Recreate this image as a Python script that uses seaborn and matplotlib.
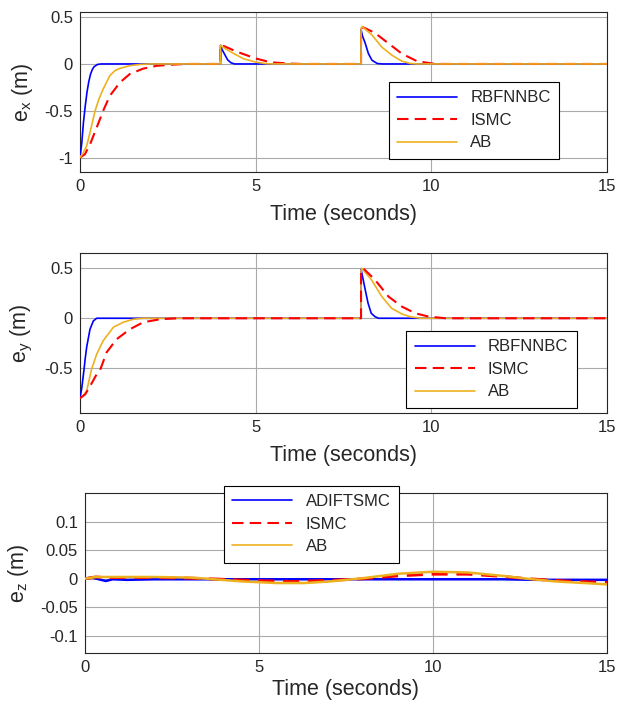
import matplotlib
matplotlib.use("Agg")
import matplotlib.pyplot as plt
import seaborn as sns

# ---------------- e_x panel ----------------
ex_rbf_t = [0, 0.05, 0.1, 0.15, 0.2, 0.25, 0.3, 0.35, 0.4, 0.5, 0.6,
            4.0, 4.0, 4.05, 4.1, 4.15, 4.2, 4.3, 4.4,
            8.0, 8.0, 8.04, 8.12, 8.21, 8.31, 8.46, 8.6, 15]
ex_rbf = [-1, -0.85, -0.62, -0.45, -0.3, -0.19, -0.11, -0.06, -0.03, -0.005, 0,
          0, 0.2, 0.15, 0.115, 0.08, 0.045, 0.012, 0,
          0, 0.37, 0.30, 0.22, 0.11, 0.04, 0.005, 0, 0]

ex_ismc_t = [0, 0.14, 0.285, 0.475, 0.66, 0.85, 1.14, 1.42, 1.8, 2.18, 2.6, 3.0,
             4.0, 4.0, 4.1, 4.47, 4.99, 5.42, 5.94, 6.3,
             8.0, 8.0, 8.07, 8.4, 8.78, 9.16, 9.59, 10.02, 10.3, 15]
ex_ismc = [-1, -0.965, -0.86, -0.68, -0.5, -0.34, -0.197, -0.107, -0.05, -0.02, -0.008, 0,
           0, 0.2, 0.19, 0.13, 0.06, 0.018, 0.005, 0,
           0, 0.37, 0.39, 0.33, 0.22, 0.11, 0.03, 0.005, 0, 0]

ex_ab_t = [0, 0.095, 0.19, 0.285, 0.43, 0.54, 0.66, 0.85, 1.0, 1.14, 1.42, 1.71, 2.0,
           4.0, 4.0, 4.15, 4.36, 4.65, 4.99, 5.3, 5.5,
           8.0, 8.0, 8.03, 8.31, 8.59, 8.88, 9.16, 9.41, 9.6, 15]
ex_ab = [-1, -0.947, -0.876, -0.733, -0.5, -0.375, -0.268, -0.125, -0.07, -0.047, -0.018, -0.005, 0,
         0, 0.2, 0.16, 0.115, 0.056, 0.021, 0.003, 0,
         0, 0.38, 0.40, 0.31, 0.18, 0.093, 0.03, 0.005, 0, 0]

# ---------------- e_y panel ----------------
ey_rbf_t = [0, 0.05, 0.11, 0.15, 0.19, 0.285, 0.38, 0.475,
            8.0, 8.0, 8.12, 8.2, 8.29, 8.4, 8.5, 15]
ey_rbf = [-0.8, -0.7, -0.527, -0.4, -0.29, -0.11, -0.027, 0,
          0, 0.49, 0.283, 0.15, 0.05, 0.015, 0, 0]

ey_ismc_t = [0, 0.15, 0.285, 0.475, 0.57, 0.76, 1.04, 1.42, 1.8, 2.28, 2.8,
             8.0, 8.0, 8.06, 8.4, 8.78, 9.16, 9.54, 9.92, 10.4, 15]
ey_ismc = [-0.8, -0.76, -0.68, -0.56, -0.52, -0.34, -0.21, -0.11, -0.04, -0.01, 0,
           0, 0.47, 0.5, 0.383, 0.217, 0.117, 0.05, 0.017, 0, 0]

ey_ab_t = [0, 0.1, 0.19, 0.33, 0.475, 0.66, 0.95, 1.23, 1.52, 1.8,
           8.0, 8.0, 8.02, 8.3, 8.59, 8.87, 9.16, 9.4, 9.7, 15]
ey_ab = [-0.8, -0.77, -0.727, -0.51, -0.36, -0.225, -0.09, -0.04, -0.01, 0,
         0, 0.48, 0.5, 0.383, 0.217, 0.1, 0.043, 0.015, 0, 0]

# ---------------- e_z panel ----------------
ez_adi_t = [0, 0.2, 0.4, 0.6, 0.8, 1.2, 2, 3, 4, 6, 8, 10, 12, 13, 15]
ez_adi = [0, 0.002, -0.001, -0.004, -0.001, -0.002, -0.001, -0.001, -0.001,
          -0.001, -0.001, -0.001, -0.001, -0.002, -0.002]

ez_ismc_t = [0, 0.3, 0.7, 1, 2, 3, 3.5, 5, 6, 7, 8, 9, 10, 11, 12, 12.7, 14, 15]
ez_ismc = [0, 0.003, 0.002, 0.002, 0.002, 0.001, 0, -0.0035, -0.005, -0.003, 0,
           0.005, 0.008, 0.008, 0.004, 0, -0.0047, -0.0064]

ez_ab_t = [0, 0.3, 1, 2, 3, 3.5, 4.5, 5.5, 6.3, 7, 8, 9, 10, 11, 12, 12.7, 13.5, 14.5, 15]
ez_ab = [0, 0.003, 0.003, 0.003, 0.002, 0, -0.0047, -0.0076, -0.0076, -0.005, 0.001,
         0.0087, 0.0122, 0.011, 0.005, 0, -0.0047, -0.0081, -0.01]

BLUE = "#0000FF"
RED = "#FF0000"
ORANGE = "#EDB120"
DASH = (0, (5.5, 3))

sns.set_theme(style="whitegrid")
plt.rcParams["font.family"] = ["Liberation Sans", "DejaVu Sans"]
plt.rcParams["mathtext.fontset"] = "custom"
plt.rcParams["mathtext.rm"] = "Liberation Sans"
plt.rcParams["mathtext.it"] = "Liberation Sans"
plt.rcParams["axes.unicode_minus"] = False

fig = plt.figure(figsize=(6.2, 7.03), dpi=100)
fig.patch.set_facecolor("white")

ax1 = fig.add_axes([0.129, 0.7553, 0.850, 0.2276])
ax2 = fig.add_axes([0.129, 0.4121, 0.850, 0.2284])
ax3 = fig.add_axes([0.137, 0.0707, 0.842, 0.2276])


def draw(ax, t, v, name, color, dashed, z):
    ls = DASH if dashed else "-"
    lw = 1.5 if dashed else 1.2
    sns.lineplot(x=t, y=v, ax=ax, color=color, label=name, estimator=None,
                 sort=False, linewidth=lw, linestyle=ls, zorder=z)


def style(ax, ylim, yticks, ylabel, anchor, xpad=7):
    ax.set_xlim(0, 15)
    ax.set_ylim(*ylim)
    ax.set_xticks([0, 5, 10, 15])
    ax.set_xticklabels(["0", "5", "10", "15"])
    ax.set_yticks(yticks)
    ax.set_yticklabels([f"{y:g}" for y in yticks])
    ax.set_facecolor("white")
    ax.grid(True, color="#aaaaaa", linewidth=0.8)
    for sp in ax.spines.values():
        sp.set_color("#262626")
        sp.set_linewidth(0.8)
        sp.set_visible(True)
    ax.tick_params(direction="in", length=3, width=0.8, colors="#262626",
                   labelsize=12, pad=5)
    ax.set_xlabel("Time (seconds)", fontsize=15.5, color="#262626", labelpad=xpad)
    ax.set_ylabel(ylabel, fontsize=15.5, color="#262626", labelpad=7)
    leg = ax.legend(loc="upper left", bbox_to_anchor=anchor, borderaxespad=0,
                    fontsize=12, handlelength=3.6, fancybox=False,
                    framealpha=1, edgecolor="black", borderpad=0.5,
                    labelspacing=0.45)
    leg.get_frame().set_linewidth(0.8)
    for txt in leg.get_texts():
        txt.set_color("#262626")


# e_x
draw(ax1, ex_rbf_t, ex_rbf, "RBFNNBC", BLUE, False, 3)
draw(ax1, ex_ismc_t, ex_ismc, "ISMC", RED, True, 4)
draw(ax1, ex_ab_t, ex_ab, "AB", ORANGE, False, 5)
style(ax1, (-1.155, 0.555), [-1, -0.5, 0, 0.5], r"e$_{\mathrm{x}}$ (m)", (0.586, 0.5625))

# e_y
draw(ax2, ey_rbf_t, ey_rbf, "RBFNNBC", BLUE, False, 3)
draw(ax2, ey_ismc_t, ey_ismc, "ISMC", RED, True, 5)
draw(ax2, ey_ab_t, ey_ab, "AB", ORANGE, False, 4)
style(ax2, (-0.95, 0.655), [-0.5, 0, 0.5], r"e$_{\mathrm{y}}$ (m)", (0.619, 0.512))

# e_z
draw(ax3, ez_adi_t, ez_adi, "ADIFTSMC", BLUE, False, 3)
draw(ax3, ez_ismc_t, ez_ismc, "ISMC", RED, True, 4)
draw(ax3, ez_ab_t, ez_ab, "AB", ORANGE, False, 5)
style(ax3, (-0.131, 0.15), [-0.1, -0.05, 0, 0.05, 0.1], r"e$_{\mathrm{z}}$ (m)", (0.266, 1.046), xpad=3)
for ln in ax3.get_lines():
    ln.set_linewidth(ln.get_linewidth() + 0.6)

fig.savefig("out.png", dpi=100, facecolor="white")
